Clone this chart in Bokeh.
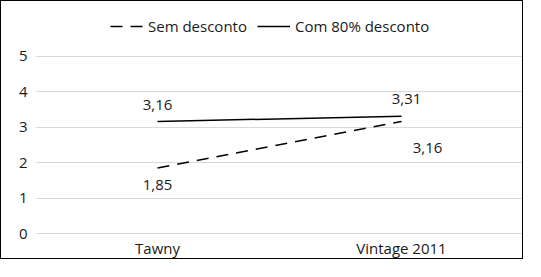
from bokeh.plotting import figure
from bokeh.models import ColumnDataSource, Legend, LegendItem, Range1d, FactorRange
from bokeh.core.properties import value
from bokeh.embed import file_html
from bokeh.resources import INLINE

categories = ["Tawny", "Vintage 2011"]
sem_desconto = [1.85, 3.16]
com_desconto = [3.16, 3.31]
sem_labels = ["1,85", "3,16"]
com_labels = ["3,16", "3,31"]
y_ticks = [0, 1, 2, 3, 4, 5]

FONT = "Open Sans"
TXT = "#1a1a1a"

# frame extends to the top of the figure so the legend can sit inside it
p = figure(width=523, height=259, x_range=FactorRange(*categories), y_range=Range1d(-0.0843, 6.545),
           output_backend="svg", toolbar_location=None,
           min_border_left=34, min_border_right=1, min_border_top=0, min_border_bottom=20)
p.styles = {"border": "1px solid black"}
p.outline_line_color = None
p.background_fill_color = "white"
p.border_fill_color = "white"

p.xgrid.grid_line_color = None
p.ygrid.grid_line_color = "#d9d9d9"
p.ygrid.grid_line_width = 1
p.yaxis.ticker = y_ticks

for ax in (p.xaxis[0], p.yaxis[0]):
    ax.axis_line_color = None
    ax.major_tick_line_color = None
    ax.minor_tick_line_color = None
    ax.major_tick_out = 0
    ax.major_tick_in = 0
    ax.major_label_text_font = FONT
    ax.major_label_text_font_size = "15px"
    ax.major_label_text_color = TXT
p.yaxis.major_label_standoff = 8
p.xaxis.major_label_standoff = 1

src = ColumnDataSource(dict(x=categories, sem=sem_desconto, com=com_desconto,
                            sem_lab=sem_labels, com_lab=com_labels))

r_sem = p.line("x", "sem", source=src, line_color="black", line_width=1.5, line_dash="12 8")
r_com = p.line("x", "com", source=src, line_color="black", line_width=1.5)

# data labels
p.text(x=[categories[0]], y=[com_desconto[0]], text=[com_labels[0]], y_offset=-16,
       text_align="center", text_baseline="middle", text_font=value(FONT),
       text_font_size="15px", text_color=TXT)
p.text(x=[categories[1]], y=[com_desconto[1]], text=[com_labels[1]], x_offset=5, y_offset=-17,
       text_align="center", text_baseline="middle", text_font=value(FONT),
       text_font_size="15px", text_color=TXT)
p.text(x=[categories[0]], y=[sem_desconto[0]], text=[sem_labels[0]], y_offset=17,
       text_align="center", text_baseline="middle", text_font=value(FONT),
       text_font_size="15px", text_color=TXT)
p.text(x=[categories[1]], y=[sem_desconto[1]], text=[sem_labels[1]], x_offset=26, y_offset=27,
       text_align="center", text_baseline="middle", text_font=value(FONT),
       text_font_size="15px", text_color=TXT)

legend = Legend(items=[LegendItem(label="Sem desconto", renderers=[r_sem]),
                       LegendItem(label="Com 80% desconto", renderers=[r_com])],
                orientation="horizontal", location=(75, 200))
legend.label_text_font = FONT
legend.label_text_font_size = "15px"
legend.label_text_color = TXT
legend.glyph_width = 33
legend.label_standoff = 5
legend.spacing = 10
legend.padding = 0
legend.margin = 0
legend.border_line_color = None
legend.background_fill_alpha = 0
p.add_layout(legend, "center")

open("out.html", "w").write(file_html(p, INLINE))
